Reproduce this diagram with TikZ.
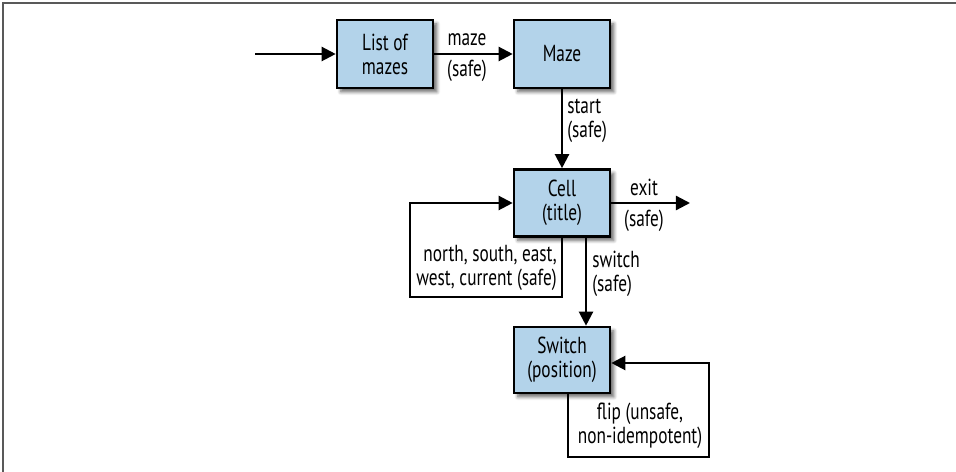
\documentclass[tikz,border=0pt]{standalone}
\usepackage{fontspec}
\setmainfont{PT Sans}[FakeStretch=0.745]
\usepackage{tikz}
\usetikzlibrary{arrows.meta,shadows.blur}

\definecolor{boxblue}{RGB}{179,211,234}

\tikzset{
  block/.style={draw,line width=1.5pt,fill=boxblue,align=center,
    minimum width=1.92cm,minimum height=1.36cm,inner sep=0pt,
    font=\fontsize{13.2}{13.6}\selectfont,
    blur shadow={shadow xshift=2.2pt,shadow yshift=-2.2pt,shadow blur steps=6,shadow opacity=60}},
  flow/.style={line width=1.3pt,-{Triangle[length=8pt,width=8pt]}},
  lbl/.style={inner sep=0pt,font=\fontsize{13.2}{13.6}\selectfont}
}

\begin{document}
\begin{tikzpicture}[x=0.02cm,y=-0.02cm]
  \useasboundingbox (0,0) rectangle (956,472);
  \draw[line width=1.1pt,black!65] (3,472) -- (3,3) -- (956,3);

  % boxes
  \node[block](list) at (385,54){List of\\mazes};
  \node[block](maze) at (562,54){Maze};
  \node[block,minimum height=1.34cm](cell) at (562,203){Cell\\(title)};
  \node[block,minimum height=1.32cm](switch) at (562,360){Switch\\(position)};

  % loose ends and bends
  \coordinate(start) at (255,54);
  \coordinate(exit) at (690,203);
  \coordinate(loopc) at (410,297);
  \coordinate(swx) at (586,0);
  \coordinate(flipa) at (568,457);
  \coordinate(flipb) at (709,363);

  % connectors
  \draw[flow] (start) -- (list);
  \draw[flow] (list) -- (maze);
  \draw[flow] (maze) -- (cell);
  \draw[flow] (cell) -- (exit);
  \draw[flow] (cell.south) |- (loopc) |- (cell.west);
  \draw[flow] (cell.south -| swx) -- (switch.north -| swx);
  \draw[flow] (switch.south -| flipa) |- (flipa) -| (flipb) -- (switch.east |- flipb);

  % labels
  \node[lbl,align=center](mzlbl) at (467,58){maze\\[4pt](safe)};
  \node[lbl,align=left,anchor=west](stlbl) at (567,121){start\\(safe)};
  \node[lbl,align=center](exlbl) at (644,205){exit\\[4pt](safe)};
  \node[lbl,align=right,anchor=east](nslbl) at (557,268){north, south, east,\\west, current (safe)};
  \node[lbl,align=left,anchor=west](swlbl) at (592,274){switch\\(safe)};
  \node[lbl,align=center](fllbl) at (640,426){flip (unsafe,\\non-idempotent)};
\end{tikzpicture}
\end{document}
